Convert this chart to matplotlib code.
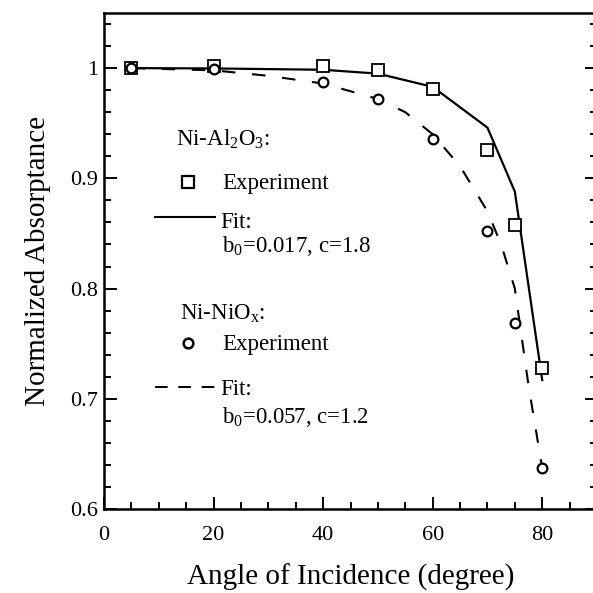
import matplotlib
matplotlib.use("Agg")
import matplotlib.pyplot as plt
from matplotlib.ticker import MultipleLocator

plt.rcParams['font.family'] = ['Liberation Serif', 'DejaVu Serif']
plt.rcParams['mathtext.fontset'] = 'custom'
plt.rcParams['mathtext.rm'] = 'Liberation Serif'
plt.rcParams['mathtext.it'] = 'Liberation Serif:italic'

# Ni-Al2O3
al_angle = [5, 20, 40, 50, 60, 70, 75, 80]
al_exp = [1.000, 1.002, 1.002, 0.998, 0.981, 0.926, 0.858, 0.728]
al_fit_angle = [5, 20, 40, 50, 60, 70, 75, 80]
al_fit = [1.000, 0.9997, 0.9985, 0.995, 0.983, 0.946, 0.888, 0.717]

# Ni-NiOx
ni_angle = [5, 20, 40, 50, 60, 70, 75, 80]
ni_exp = [1.000, 0.999, 0.987, 0.972, 0.936, 0.852, 0.769, 0.637]
ni_fit_angle = [5, 20, 30, 40, 50, 55, 60, 65, 70, 72.5, 75, 77.5, 80]
ni_fit = [1.000, 0.998, 0.993, 0.986, 0.972, 0.960, 0.940, 0.911, 0.870,
          0.840, 0.800, 0.712, 0.637]

fig = plt.figure(figsize=(5.93, 5.93), dpi=100)
ax = fig.add_axes([104/593, 84/593, 493/593, 496/593])

dash = (6.5, 8.0)
ax.plot(al_fit_angle, al_fit, color='black', lw=1.6)
ax.plot(ni_fit_angle, ni_fit, color='black', lw=1.5, dashes=dash)
ax.plot(al_angle, al_exp, ls='none', marker='s', ms=8.5, mfc='white',
        mec='black', mew=1.3)
ax.plot(ni_angle, ni_exp, ls='none', marker='o', ms=7, mfc='white',
        mec='black', mew=1.6)

ax.set_xlim(0, 90)
ax.set_ylim(0.6, 1.05)
ax.xaxis.set_major_locator(MultipleLocator(20))
ax.xaxis.set_minor_locator(MultipleLocator(5))
ax.yaxis.set_minor_locator(MultipleLocator(0.02))
ax.set_yticks([0.6, 0.7, 0.8, 0.9, 1.0])
ax.set_yticklabels(['0.6', '0.7', '0.8', '0.9', '1'])
ax.tick_params(which='both', direction='in', top=False, right=True,
               labelsize=16, width=1.4)
ax.tick_params(axis='x', which='both', pad=12)
ax.tick_params(axis='y', which='both', pad=4)
ax.tick_params(which='major', length=9)
ax.tick_params(which='minor', length=5)
for s in ax.spines.values():
    s.set_linewidth(1.8)

ax.set_xlabel('Angle of Incidence (degree)', fontsize=21, labelpad=14)
ax.set_ylabel('Normalized Absorptance', fontsize=21, labelpad=14)

# legend block (axes fraction)
def fx(px):
    return (px - 104) / 493

def fy(py):
    return (509 - py) / 496

fs = 16.5
tr = ax.transAxes
ax.text(fx(176), fy(146), r'Ni-Al$_2$O$_3$:', fontsize=fs, transform=tr, va='baseline')
ax.plot([fx(188)], [fy(182)], transform=tr, ls='none', marker='s', ms=8.5,
        mfc='white', mec='black', mew=1.6)
ax.text(fx(222), fy(189), 'Experiment', fontsize=fs, transform=tr, va='baseline')
ax.plot([fx(155), fx(215)], [fy(217), fy(217)], transform=tr, color='black', lw=1.5)
ax.text(fx(220), fy(228), 'Fit:', fontsize=fs, transform=tr, va='baseline')
ax.text(fx(222), fy(252), r'b$_0$=0.017, c=1.8', fontsize=fs, transform=tr, va='baseline')

ax.text(fx(180), fy(320), r'Ni-NiO$_\mathrm{x}$:', fontsize=fs, transform=tr, va='baseline')
ax.plot([fx(188)], [fy(343)], transform=tr, ls='none', marker='o', ms=7,
        mfc='white', mec='black', mew=1.8)
ax.text(fx(222), fy(350), 'Experiment', fontsize=fs, transform=tr, va='baseline')
ax.plot([fx(155), fx(218)], [fy(387), fy(387)], transform=tr, color='black',
        lw=1.4, dashes=(6.5, 5.5))
ax.text(fx(220), fy(395), 'Fit:', fontsize=fs, transform=tr, va='baseline')
ax.text(fx(222), fy(423), r'b$_0$=0.057, c=1.2', fontsize=fs, transform=tr, va='baseline')

fig.savefig('out.png', dpi=100)
